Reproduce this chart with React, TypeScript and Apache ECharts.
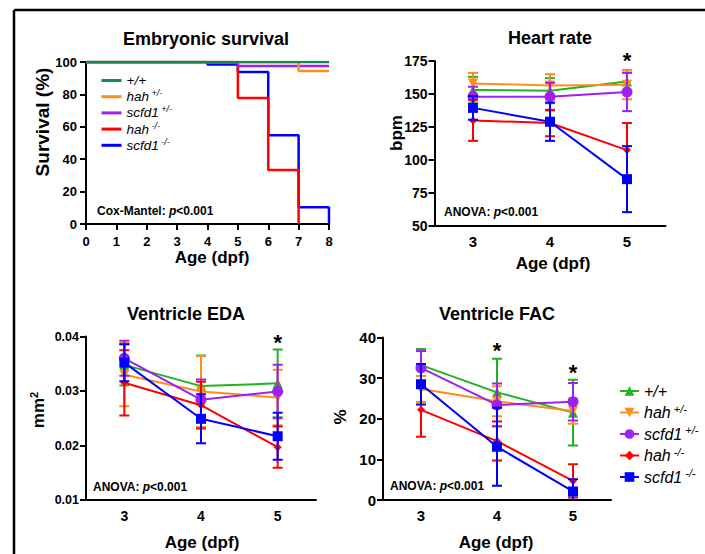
import React, { useEffect, useRef } from 'react';
import * as echarts from 'echarts';

const FONT = '"Liberation Sans", Arial, Helvetica, sans-serif';

const GROUPS = ['+/+', 'hah +/-', 'scfd1 +/-', 'hah -/-', 'scfd1 -/-'];
const XY_COLORS = ['#1fb41f', '#ff8c1a', '#a020f0', '#ff0000', '#0000ff'];
const SURV_COLORS = ['#138a4a', '#ff8c1a', '#a020f0', '#ff0000', '#0000ff'];
const SYMBOLS = ['triangle', 'triangle', 'circle', 'diamond', 'rect'];
const SYMBOL_ROTATE = [0, 180, 0, 0, 0];
const SYMBOL_SIZES = [10, 10, 11, 8, 10];

const AGES = ['3', '4', '5'];

// Kaplan-Meier survival: [day, % surviving]
const survWT = [[0, 100], [8, 100]];
const survHahHet = [[0, 100], [7, 94.4], [8, 94.4]];
const survScfdHet = [[0, 100], [5, 97.5], [8, 97.5]];
const survHahHom = [[0, 100], [5, 77.8], [6, 33.3], [7, 0]];
const survScfdHom = [[0, 100], [4, 98.4], [5, 93.8], [6, 54.8], [7, 10.4], [8, 0]];
const SURVIVAL = [survWT, survHahHet, survScfdHet, survHahHom, survScfdHom];

// Heart rate (bpm), mean and SD at 3, 4, 5 dpf
const hrMean = [
  [153, 152.5, 159.5],
  [158, 156.5, 157],
  [148, 148, 151.5],
  [130, 128, 107.5],
  [139.5, 129, 85.5],
];
const hrSD = [
  [10, 9.5, 8.5],
  [8, 8.5, 11],
  [7.5, 10.5, 14.5],
  [15.5, 10, 20.5],
  [9, 14.5, 25],
];

// Ventricle EDA (mm2)
const edaMean = [
  [0.0348, 0.0309, 0.0314],
  [0.0330, 0.0299, 0.0288],
  [0.0360, 0.0284, 0.0299],
  [0.0315, 0.0274, 0.0197],
  [0.0352, 0.0249, 0.0217],
];
const edaSD = [
  [0.0038, 0.0056, 0.0062],
  [0.0058, 0.0065, 0.0051],
  [0.0032, 0.0037, 0.0049],
  [0.0060, 0.0043, 0.0038],
  [0.0034, 0.0045, 0.0043],
];

// Ventricle FAC (%)
const facMean = [
  [33.2, 26.5, 21.5],
  [27.3, 24.3, 21.9],
  [32.5, 23.4, 24.2],
  [22.2, 14.5, 4.7],
  [28.5, 13.1, 2.1],
];
const facSD = [
  [4.0, 8.3, 8.1],
  [3.2, 3.7, 3.1],
  [4.2, 5.3, 4.6],
  [6.6, 4.8, 4.1],
  [5.0, 9.6, 3.0],
];

// significance asterisks: [panel grid index, age index, value]
const SIG_MARKS = [
  [1, 2, 178.5],
  [2, 2, 0.0396],
  [3, 1, 37.8],
  [3, 2, 32.3],
];

const AXIS_LINE = { lineStyle: { color: '#000', width: 2 } };
const AXIS_TICK = { length: 6, lineStyle: { color: '#000', width: 2 } };
const label = (fontSize: number, margin: number) => ({
  color: '#000',
  fontWeight: 'bold' as const,
  fontSize,
  fontFamily: FONT,
  margin,
});

function legendFormatter(name: string) {
  const base = name.replace(/^s:/, '');
  if (base === '+/+') return '{t|+/+}';
  const [gene, sup] = base.split(' ');
  return `{t|${gene}}{sup| ${sup}}`;
}

function errRender(color: string) {
  return (params: any, api: any) => {
    const x = api.value(0);
    const m = api.value(1);
    const s = api.value(2);
    const top = api.coord([x, m + s]);
    const bot = api.coord([x, m - s]);
    const hw = 5;
    const style = { stroke: color, lineWidth: 2 };
    return {
      type: 'group',
      children: [
        { type: 'line', shape: { x1: top[0], y1: top[1], x2: bot[0], y2: bot[1] }, style },
        { type: 'line', shape: { x1: top[0] - hw, y1: top[1], x2: top[0] + hw, y2: top[1] }, style },
        { type: 'line', shape: { x1: bot[0] - hw, y1: bot[1], x2: bot[0] + hw, y2: bot[1] }, style },
      ],
    };
  };
}

function text(x: number, y: number, t: string, opts: any = {}) {
  return {
    type: 'text',
    x,
    y,
    rotation: opts.rotation || 0,
    style: {
      text: t,
      fill: '#000',
      font: opts.font || `bold 15px ${FONT}`,
      textAlign: opts.align || 'center',
      align: opts.align || 'center',
      textVerticalAlign: 'middle',
      verticalAlign: 'middle',
      rich: opts.rich,
    },
  };
}

const NOTE_RICH = {
  b: { fontFamily: FONT, fontWeight: 'bold', fontSize: 12, fill: '#000' },
  i: { fontFamily: FONT, fontWeight: 'bold', fontStyle: 'italic', fontSize: 12, fill: '#000' },
};

export default function App() {
  const ref = useRef<HTMLDivElement>(null);
  useEffect(() => {
    if (!ref.current) return;
    const chart = echarts.init(ref.current, undefined, { renderer: 'svg' });

    const series: any[] = [];
    // Survival (draw green last)
    for (let gi = GROUPS.length - 1; gi >= 0; gi--) {
      series.push({
        name: 's:' + GROUPS[gi],
        type: 'line',
        xAxisIndex: 0,
        yAxisIndex: 0,
        step: 'end',
        symbol: 'none',
        data: SURVIVAL[gi],
        lineStyle: { color: SURV_COLORS[gi], width: 2.5 },
        itemStyle: { color: SURV_COLORS[gi] },
      });
    }
    const panels = [
      { idx: 3, mean: facMean, sd: facSD },
      { idx: 1, mean: hrMean, sd: hrSD },
      { idx: 2, mean: edaMean, sd: edaSD },
    ];
    for (const p of panels) {
      for (let gi = 0; gi < GROUPS.length; gi++) {
        series.push({
          name: GROUPS[gi],
          type: 'line',
          xAxisIndex: p.idx,
          yAxisIndex: p.idx,
          symbol: SYMBOLS[gi],
          symbolRotate: SYMBOL_ROTATE[gi],
          symbolSize: SYMBOL_SIZES[gi],
          showSymbol: true,
          data: p.mean[gi],
          lineStyle: { color: XY_COLORS[gi], width: 2 },
          itemStyle: { color: XY_COLORS[gi] },
          z: 2 + gi * 0.01,
        });
        series.push({
          name: 'err:' + GROUPS[gi],
          type: 'custom',
          xAxisIndex: p.idx,
          yAxisIndex: p.idx,
          clip: true,
          renderItem: errRender(XY_COLORS[gi]),
          itemStyle: { color: XY_COLORS[gi] },
          data: p.mean[gi].map((m, k) => [k, m, p.sd[gi][k]]),
          encode: { x: 0, y: 1 },
          z: 2 + gi * 0.01,
        });
      }
    }

    const xy = (gridIndex: number, fontSize: number, margin: number) => ({
      type: 'category',
      gridIndex,
      data: AGES,
      boundaryGap: true,
      axisLine: AXIS_LINE,
      axisTick: { ...AXIS_TICK, alignWithLabel: true },
      axisLabel: label(fontSize, margin),
      splitLine: { show: false },
    });
    const yv = (gridIndex: number, min: number, max: number, interval: number, fontSize: number, margin: number, fmt?: any) => ({
      type: 'value',
      gridIndex,
      min,
      max,
      interval,
      axisLine: { show: true, ...AXIS_LINE },
      axisTick: { show: true, ...AXIS_TICK },
      axisLabel: { ...label(fontSize, margin), formatter: fmt },
      splitLine: { show: false },
    });

    const richSmall = {
      t: { fontFamily: FONT, fontStyle: 'italic', fontSize: 13.5, color: '#000', lineHeight: 16 },
      sup: { fontFamily: FONT, fontStyle: 'italic', fontSize: 9, color: '#000', lineHeight: 7, verticalAlign: 'top' },
    };
    const richBig = {
      t: { fontFamily: FONT, fontStyle: 'italic', fontSize: 16, color: '#000', lineHeight: 19 },
      sup: { fontFamily: FONT, fontStyle: 'italic', fontSize: 11, color: '#000', lineHeight: 9, verticalAlign: 'top' },
    };

    chart.setOption({
      animation: false,
      backgroundColor: '#fff',
      grid: [
        { left: 86, top: 62, width: 243, height: 162 },
        { left: 434.5, top: 61, width: 231, height: 165 },
        { left: 86, top: 336.5, width: 230, height: 163.5 },
        { left: 383, top: 337.5, width: 228, height: 162.5 },
      ],
      xAxis: [
        {
          type: 'value',
          gridIndex: 0,
          min: 0,
          max: 8,
          interval: 1,
          axisLine: AXIS_LINE,
          axisTick: AXIS_TICK,
          axisLabel: label(13, 11),
          splitLine: { show: false },
        },
        xy(1, 15, 8),
        xy(2, 14, 9),
        xy(3, 15, 8),
      ],
      yAxis: [
        yv(0, 0, 100, 20, 13, 9),
        yv(1, 50, 175, 25, 14, 7),
        yv(2, 0.01, 0.04, 0.01, 12.5, 7, (v: number) => v.toFixed(2)),
        yv(3, 0, 40, 10, 15, 7),
      ],
      legend: [
        {
          data: GROUPS.map((g) => 's:' + g),
          orient: 'vertical',
          left: 96.5,
          top: 68.5,
          icon: 'rect',
          itemWidth: 20,
          itemHeight: 3,
          itemGap: 1.2,
          selectedMode: false,
          formatter: legendFormatter,
          textStyle: { rich: richSmall },
        },
        {
          data: GROUPS,
          orient: 'vertical',
          left: 614,
          top: 378,
          itemWidth: 19,
          itemHeight: 12,
          itemGap: 4,
          selectedMode: false,
          formatter: legendFormatter,
          textStyle: { rich: richBig },
        },
      ],
      series,
    });

    const marks = SIG_MARKS.map(([g, k, v]) => {
      const p = chart.convertToPixel({ gridIndex: g } as any, [k, v]) as number[];
      return text(p[0], p[1] + 4, '*', { font: `bold 22px ${FONT}` });
    });

    chart.setOption({
      graphic: [
        { type: 'line', shape: { x1: 14, y1: 10, x2: 705, y2: 10 }, style: { stroke: '#000', lineWidth: 2.5 } },
        { type: 'line', shape: { x1: 14, y1: 10, x2: 14, y2: 554 }, style: { stroke: '#000', lineWidth: 2.5 } },
        text(206, 39, 'Embryonic survival', { font: `bold 18px ${FONT}` }),
        text(550, 38, 'Heart rate', { font: `bold 18px ${FONT}` }),
        text(186, 314, 'Ventricle EDA', { font: `bold 18px ${FONT}` }),
        text(497, 314, 'Ventricle FAC', { font: `bold 18px ${FONT}` }),
        text(42, 122, 'Survival (%)', { rotation: Math.PI / 2, font: `bold 19px ${FONT}` }),
        text(396, 133, 'bpm', { rotation: Math.PI / 2, font: `bold 17px ${FONT}` }),
        text(38, 410, '{m|mm}{s|2}', {
          rotation: Math.PI / 2,
          rich: {
            m: { fontFamily: FONT, fontWeight: 'bold', fontSize: 17, fill: '#000', lineHeight: 19 },
            s: { fontFamily: FONT, fontWeight: 'bold', fontSize: 11, fill: '#000', lineHeight: 10, verticalAlign: 'top' },
          },
        }),
        text(340, 417, '%', { rotation: Math.PI / 2, font: `bold 17px ${FONT}` }),
        text(212, 257, 'Age (dpf)', { font: `bold 17px ${FONT}` }),
        text(553, 263, 'Age (dpf)', { font: `bold 17px ${FONT}` }),
        text(202, 542, 'Age (dpf)', { font: `bold 17px ${FONT}` }),
        text(496, 542, 'Age (dpf)', { font: `bold 17px ${FONT}` }),
        text(97, 211, '{b|Cox-Mantel: }{i|p}{b|<0.001}', { align: 'left', rich: NOTE_RICH }),
        text(444, 212, '{b|ANOVA: }{i|p}{b|<0.001}', { align: 'left', rich: NOTE_RICH }),
        text(93, 487, '{b|ANOVA: }{i|p}{b|<0.001}', { align: 'left', rich: NOTE_RICH }),
        text(390, 486, '{b|ANOVA: }{i|p}{b|<0.001}', { align: 'left', rich: NOTE_RICH }),
        ...marks,
      ],
    });

    return () => chart.dispose();
  }, []);

  return (
    <div
      ref={ref}
      style={{ position: 'absolute', left: 0, top: 0, width: 705, height: 554, background: '#fff' }}
    />
  );
}
